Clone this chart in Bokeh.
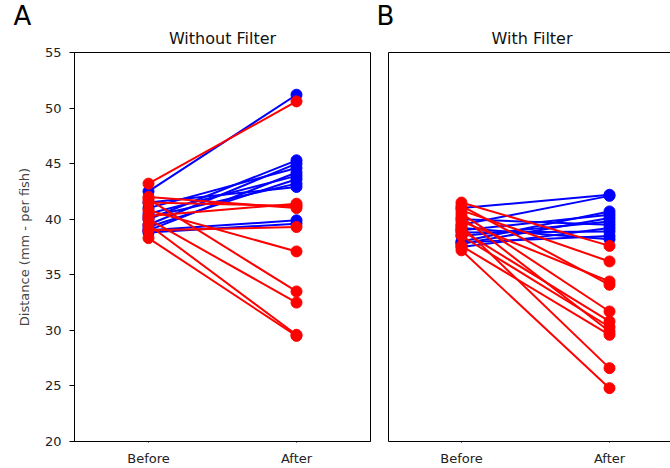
from bokeh.plotting import figure
from bokeh.layouts import row
from bokeh.models import Range1d, FixedTicker, LinearAxis, Title
from bokeh.embed import file_html
from bokeh.resources import INLINE

# ---------------- data ----------------
x_labels = ["Before", "After"]
y_ticks = [20, 25, 30, 35, 40, 45, 50, 55]

# Panel A: Without Filter
a_blue_before = [42.5, 40.0, 39.5, 41.0, 39.0, 40.5, 39.3, 40.2, 41.5, 39.0, 38.8]
a_blue_after = [51.2, 45.3, 45.0, 44.6, 44.2, 43.9, 43.6, 43.2, 42.9, 39.9, 39.6]
a_red_before = [43.2, 40.3, 41.5, 42.0, 39.0, 40.8, 41.8, 40.0, 39.5, 38.3]
a_red_after = [50.6, 41.4, 41.2, 41.0, 39.3, 37.1, 33.5, 32.5, 29.6, 29.5]

# Panel B: With Filter
b_blue_before = [41.0, 39.5, 38.0, 39.0, 37.8, 38.5, 40.0, 37.5, 38.8, 37.9, 39.2]
b_blue_after = [42.2, 42.1, 40.7, 40.4, 40.1, 39.8, 39.5, 39.2, 38.9, 38.5, 38.2]
b_red_before = [41.5, 40.8, 39.8, 41.2, 40.5, 39.0, 38.5, 40.2, 37.6, 39.4, 37.2]
b_red_after = [37.6, 36.2, 34.4, 34.1, 31.7, 30.8, 30.3, 29.9, 29.6, 26.6, 24.8]

FONT = "DejaVu Sans"
H = 468


def draw_pairs(p, before, after, color):
    n = len(before)
    p.multi_line(xs=[[0, 1] for _ in range(n)],
                 ys=[[b, a] for b, a in zip(before, after)],
                 line_color=color, line_width=2)
    p.scatter(x=[0] * n + [1] * n, y=list(before) + list(after),
              size=11, color=color)


def style_x(axis):
    axis.ticker = FixedTicker(ticks=[0, 1])
    axis.major_label_overrides = {0: x_labels[0], 1: x_labels[1]}
    axis.major_label_text_font = FONT
    axis.major_label_text_font_size = "13px"
    axis.major_label_text_color = "#222222"
    axis.major_tick_out = 1
    axis.major_tick_in = 0
    axis.minor_tick_out = 0
    axis.minor_tick_in = 0
    axis.major_label_standoff = 8
    axis.axis_line_color = "black"


def letter_title(p, letter, offset):
    p.title.text = letter
    p.title.text_font = FONT
    p.title.text_font_size = "26px"
    p.title.text_font_style = "normal"
    p.title.text_color = "black"
    p.title.align = "left"
    p.title.offset = offset
    p.title.standoff = -19


def panel_title(text, align, offset, standoff):
    return Title(text=text, text_font=FONT, text_font_size="16px",
                 text_font_style="normal", text_color="#111111",
                 align=align, offset=offset, standoff=standoff)


# ---------------- panel A ----------------
pA = figure(width=372, height=H, output_backend="svg", toolbar_location=None,
            x_range=Range1d(-0.5, 1.5), y_range=Range1d(y_ticks[0], y_ticks[-1]),
            min_border_left=74, min_border_right=2, min_border_top=52,
            min_border_bottom=26)
pA.add_layout(panel_title("Without Filter", "center", 0, 10), "above")
letter_title(pA, "A", -61)
pA.outline_line_color = "black"
pA.outline_line_alpha = 1
pA.grid.grid_line_color = None
style_x(pA.below[0])
ya = pA.left[0]
ya.ticker = FixedTicker(ticks=y_ticks)
ya.major_label_text_font = FONT
ya.major_label_text_font_size = "13px"
ya.major_label_text_color = "#222222"
ya.major_tick_out = 5
ya.major_tick_in = 0
ya.minor_tick_out = 0
ya.minor_tick_in = 0
ya.major_label_standoff = 8
ya.axis_label = "Distance (mm - per fish)"
ya.axis_label_text_font = FONT
ya.axis_label_text_font_size = "13px"
ya.axis_label_text_font_style = "normal"
ya.axis_label_standoff = 10
ya.axis_line_color = "black"

draw_pairs(pA, a_blue_before, a_blue_after, "blue")
draw_pairs(pA, a_red_before, a_red_after, "red")

# ---------------- panel B ----------------
pB = figure(width=298, height=H, output_backend="svg", toolbar_location=None,
            x_range=Range1d(-0.493, 1.412), y_range=Range1d(y_ticks[0], y_ticks[-1]),
            min_border_left=16, min_border_right=0, min_border_top=52,
            min_border_bottom=26)
top_axis = LinearAxis(ticker=FixedTicker(ticks=[]), major_tick_out=0, major_tick_in=0,
                      minor_tick_out=0, minor_tick_in=0, major_label_standoff=0,
                      major_label_text_font_size="0px", axis_line_color="black")
pB.add_layout(top_axis, "above")
pB.add_layout(panel_title("With Filter", "left", 103, 10), "above")
letter_title(pB, "B", -12)
pB.outline_line_color = None
pB.grid.grid_line_color = None
style_x(pB.below[0])
yb = pB.left[0]
yb.ticker = FixedTicker(ticks=[])
yb.major_label_text_font_size = "0px"
yb.major_tick_out = 0
yb.major_tick_in = 0
yb.minor_tick_out = 0
yb.minor_tick_in = 0
yb.major_label_standoff = 0
yb.axis_line_color = "black"

draw_pairs(pB, b_blue_before, b_blue_after, "blue")
draw_pairs(pB, b_red_before, b_red_after, "red")

layout = row(pA, pB)
open("out.html", "w").write(file_html(layout, INLINE))
